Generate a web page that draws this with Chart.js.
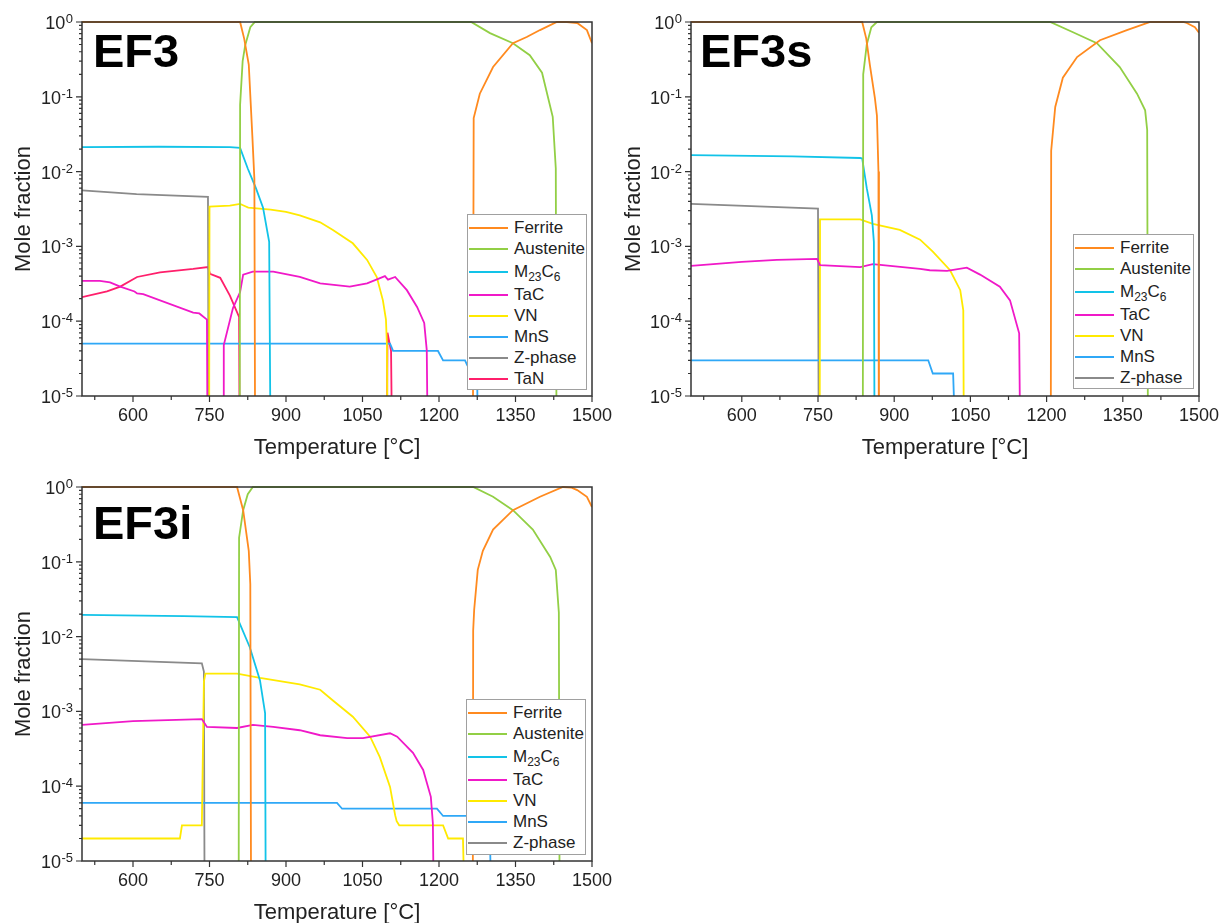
<!DOCTYPE html>
<html>
<head>
<meta charset="utf-8">
<title>Equilibrium phase fractions EF3 / EF3s / EF3i</title>
<script src="https://cdn.jsdelivr.net/npm/chart.js@4.4.0/dist/chart.umd.min.js"></script>
<style>
  html, body { margin: 0; padding: 0; background: #fff; overflow: hidden; }
  body { width: 1225px; height: 923px; position: relative; font-family: "Liberation Sans", Arial, sans-serif; }
  .panel { position: absolute; height: 465px; }
  .panel canvas { position: absolute; left: 0; top: 0; }
  .tag { position: absolute; font-weight: bold; font-size: 47px; line-height: 47px; color: #000; }
  .legend { position: absolute; background: #fff; border: 1px solid #a0a0a0; box-sizing: border-box; padding-top: 2px; }
  .legend .row { display: flex; align-items: center; height: 21px; font-size: 17px; color: #222; white-space: nowrap; }
  .legend .row.tall { height: 25px; }
  .legend .swatch { width: 39px; height: 2px; margin-left: 1px; margin-right: 6px; flex: none; }
  .legend sub { font-size: 12px; vertical-align: -4px; line-height: 0; }
</style>
</head>
<body>
<div class="panel" id="p1" style="left:0;top:0;width:625px">
  <canvas id="c1" width="625" height="465"></canvas>
  <div class="tag" style="left:93px;top:27px">EF3</div>
  <div class="legend" id="l1" style="left:467px;top:214px;width:120px;height:176px"></div>
</div>
<div class="panel" id="p3" style="left:0;top:465px;width:625px">
  <canvas id="c3" width="625" height="465"></canvas>
  <div class="tag" style="left:93px;top:34px">EF3i</div>
  <div class="legend" id="l3" style="left:466px;top:234px;width:120px;height:156px"></div>
</div>
<div class="panel" id="p2" style="left:610px;top:0;width:615px">
  <canvas id="c2" width="615" height="465"></canvas>
  <div class="tag" style="left:90px;top:27px">EF3s</div>
  <div class="legend" id="l2" style="left:463px;top:234px;width:121px;height:155px"></div>
</div>

<script>
// phases (legend order) and their colours
const phaseNames = ['Ferrite', 'Austenite', 'M23C6', 'TaC', 'VN', 'MnS', 'Z-phase', 'TaN'];
const phaseColors = ['#FF8A1F', '#92CF45', '#12C3E8', '#F019C8', '#FFEA00', '#2FA8F7', '#8A8A8A', '#FF1F6B'];

// axis ticks
const xTickValues = [600, 750, 900, 1050, 1200, 1350, 1500];
const xMinorTicks = [525, 675, 825, 975, 1125, 1275, 1425];
const yTickValues = [1e-5, 1e-4, 1e-3, 1e-2, 1e-1, 1];
const yTickExponents = ['-5', '-4', '-3', '-2', '-1', '0'];

// [temperature °C, mole fraction]; 1e-7 = phase absent (below axis)
// ---- EF3 ----
const ef3Ferrite = [[500,1],[810,1],[818,0.6],[827,0.27],[834,0.03],[838,0.008],[840,1e-7],[1266,1e-7],[1268,0.052],[1280,0.11],[1306,0.25],[1345,0.52],[1372,0.63],[1398,0.78],[1431,1],[1451,1],[1471,0.97],[1490,0.78],[1500,0.52]];
const ef3Austenite = [[500,1e-7],[809,1e-7],[810,0.078],[815,0.3],[820,0.49],[830,0.85],[839,1],[1263,1],[1300,0.71],[1345,0.52],[1378,0.36],[1402,0.21],[1423,0.054],[1429,0.011],[1431,1e-7]];
const ef3M23C6 = [[500,0.0212],[650,0.0215],[790,0.0212],[810,0.0207],[825,0.011],[841,0.006],[855,0.0033],[867,0.00115],[871,1e-7]];
const ef3TaC = [[500,3.46e-4],[535,3.46e-4],[555,3.3e-4],[575,2.9e-4],[603,2.5e-4],[608,2.35e-4],[620,2.3e-4],[718,1.3e-4],[730,1.27e-4],[745,1.05e-4],[747,1e-7],[777,1e-7],[778,4.8e-5],[796,1.5e-4],[810,2.45e-4],[816,4.2e-4],[835,4.6e-4],[875,4.6e-4],[927,3.9e-4],[967,3.2e-4],[1025,2.9e-4],[1059,3.2e-4],[1094,4.0e-4],[1100,3.6e-4],[1114,3.9e-4],[1137,2.6e-4],[1157,1.55e-4],[1171,9.5e-5],[1176,4.1e-5],[1180,1e-7]];
const ef3VN = [[749,1e-7],[750,0.0034],[790,0.0035],[810,0.0037],[818,0.0035],[826,0.0033],[870,0.0031],[900,0.0029],[927,0.0026],[967,0.0021],[992,0.00166],[1031,0.0011],[1059,0.00066],[1078,0.00039],[1090,0.00019],[1096,1.05e-4],[1098,4.6e-5],[1100,1e-7]];
const ef3MnS = [[500,5e-5],[1104,5e-5],[1110,4e-5],[1198,4e-5],[1208,3e-5],[1251,3e-5],[1255,2.6e-5],[1275,1.5e-5],[1278,1e-7]];
const ef3ZPhase = [[500,0.0056],[607,0.005],[747,0.0046],[749,1e-7]];
const ef3TaN = [[500,2.1e-4],[549,2.5e-4],[575,2.9e-4],[608,3.9e-4],[653,4.5e-4],[718,5.0e-4],[747,5.3e-4],[751,4.3e-4],[771,3.8e-4],[790,2.2e-4],[808,1.14e-4],[810,1e-7],[1097,1e-7],[1099,7e-5],[1106,4e-5],[1110,1e-7]];

// ---- EF3s ----
const ef3sFerrite = [[500,1],[837,1],[845,0.6],[852,0.27],[862,0.096],[866,0.056],[869,0.01],[870,1e-7],[1208,1e-7],[1209,0.019],[1217,0.073],[1232,0.18],[1260,0.34],[1305,0.57],[1358,0.78],[1404,1],[1469,1],[1476,0.97],[1492,0.85],[1500,0.72]];
const ef3sAustenite = [[500,1e-7],[838,1e-7],[839,0.2],[846,0.5],[855,0.85],[866,1],[1207,1],[1252,0.73],[1299,0.52],[1344,0.25],[1378,0.11],[1394,0.066],[1398,0.036],[1400,1e-7]];
const ef3sM23C6 = [[500,0.0166],[700,0.016],[833,0.0152],[837,0.015],[846,0.006],[856,0.0026],[860,0.00115],[862,1e-7]];
const ef3sTaC = [[500,5.5e-4],[600,6.2e-4],[669,6.6e-4],[748,6.8e-4],[754,5.6e-4],[833,5.3e-4],[858,5.8e-4],[951,5.0e-4],[970,4.8e-4],[1004,4.7e-4],[1043,5.2e-4],[1069,4.2e-4],[1108,2.9e-4],[1128,1.9e-4],[1146,6.9e-5],[1150,1e-7]];
const ef3sVN = [[753,1e-7],[754,0.0023],[833,0.0023],[858,0.002],[911,0.00166],[951,0.00123],[976,8.5e-4],[1010,4.8e-4],[1030,2.6e-4],[1036,1.4e-4],[1038,1e-7]];
const ef3sMnS = [[500,3e-5],[967,3e-5],[976,2e-5],[1016,2e-5],[1027,1e-7]];
const ef3sZPhase = [[500,0.0037],[750,0.0032],[752,1e-7]];

// ---- EF3i ----
const ef3iFerrite = [[500,1],[804,1],[816,0.49],[827,0.14],[830,0.05],[832,1e-7],[1266,1e-7],[1267,0.012],[1269,0.023],[1276,0.078],[1286,0.14],[1306,0.27],[1345,0.49],[1398,0.74],[1443,1],[1460,0.98],[1471,0.91],[1490,0.74],[1500,0.54]];
const ef3iAustenite = [[500,1e-7],[807,1e-7],[808,0.21],[816,0.49],[825,0.8],[835,1],[1267,1],[1306,0.74],[1345,0.49],[1384,0.27],[1418,0.116],[1429,0.078],[1435,0.021],[1437,1e-7]];
const ef3iM23C6 = [[500,0.0195],[700,0.0188],[804,0.0182],[829,0.0072],[849,0.0026],[859,9.5e-4],[861,1e-7]];
const ef3iTaC = [[500,6.6e-4],[600,7.4e-4],[735,7.9e-4],[745,6.2e-4],[804,6.0e-4],[835,6.6e-4],[875,6.2e-4],[927,5.6e-4],[967,4.8e-4],[1020,4.4e-4],[1051,4.4e-4],[1104,5.1e-4],[1118,4.6e-4],[1149,2.8e-4],[1169,1.65e-4],[1184,7.2e-5],[1188,3.2e-5],[1192,1e-7]];
const ef3iVN = [[500,2e-5],[692,2e-5],[696,3e-5],[735,3e-5],[739,0.0025],[742,0.0032],[804,0.0032],[849,0.0028],[927,0.0023],[967,0.00195],[992,0.0014],[1031,8.5e-4],[1065,4.6e-4],[1084,2.45e-4],[1104,9.8e-5],[1114,4.1e-5],[1117,3.4e-5],[1122,3e-5],[1208,3e-5],[1218,2e-5],[1247,2e-5],[1255,1e-7]];
const ef3iMnS = [[500,6e-5],[1000,6e-5],[1010,5e-5],[1196,5e-5],[1208,4e-5],[1295,4e-5],[1300,2e-5],[1306,1e-7]];
const ef3iZPhase = [[500,0.005],[735,0.0044],[739,0.0034],[741,1e-7]];

const ef3Series = [ef3Ferrite, ef3Austenite, ef3M23C6, ef3TaC, ef3VN, ef3MnS, ef3ZPhase, ef3TaN];
const ef3sSeries = [ef3sFerrite, ef3sAustenite, ef3sM23C6, ef3sTaC, ef3sVN, ef3sMnS, ef3sZPhase];
const ef3iSeries = [ef3iFerrite, ef3iAustenite, ef3iM23C6, ef3iTaC, ef3iVN, ef3iMnS, ef3iZPhase];

const FONT = '"Liberation Sans", Arial, sans-serif';
Chart.defaults.font.family = FONT;
Chart.defaults.color = '#222';

// box round the plot area, outward major/minor ticks, and 10^n labels
const frameTicks = {
  id: 'frameTicks',
  afterDatasetsDraw(chart) {
    const { ctx, chartArea: a, scales: { x, y } } = chart;
    ctx.save();
    ctx.strokeStyle = '#333';
    ctx.lineWidth = 1.5;
    ctx.strokeRect(a.left, a.top, a.right - a.left, a.bottom - a.top);
    ctx.lineWidth = 1.2;
    ctx.beginPath();
    xTickValues.forEach(v => { const px = x.getPixelForValue(v); ctx.moveTo(px, a.bottom); ctx.lineTo(px, a.bottom + 6); });
    xMinorTicks.forEach(v => { const px = x.getPixelForValue(v); ctx.moveTo(px, a.bottom); ctx.lineTo(px, a.bottom + 4); });
    yTickValues.forEach(v => { const py = y.getPixelForValue(v); ctx.moveTo(a.left, py); ctx.lineTo(a.left - 6, py); });
    yTickValues.slice(0, -1).forEach(d => {
      for (let m = 2; m <= 9; m++) {
        const py = y.getPixelForValue(d * m);
        ctx.moveTo(a.left, py); ctx.lineTo(a.left - 3, py);
      }
    });
    ctx.stroke();

    ctx.fillStyle = '#222';
    ctx.textAlign = 'right';
    ctx.textBaseline = 'alphabetic';
    yTickValues.forEach((v, i) => {
      const py = y.getPixelForValue(v);
      const exp = yTickExponents[i];
      ctx.font = '13px ' + FONT;
      const ew = ctx.measureText(exp).width;
      const right = a.left - 9;
      ctx.fillText(exp, right, py + 1);
      ctx.font = '18px ' + FONT;
      ctx.fillText('10', right - ew - 0.5, py + 7);
    });
    ctx.restore();
  }
};

function buildPanel(canvasId, legendId, series, axisWidth, padRight) {
  const datasets = series.map((pts, i) => ({
    label: phaseNames[i],
    data: pts.map(([t, f]) => ({ x: t, y: f })),
    borderColor: phaseColors[i],
    borderWidth: 1.8,
    pointRadius: 0,
    tension: 0,
    fill: false,
    clip: { left: 0, top: 2, right: 0, bottom: 0 }
  }));

  const chart = new Chart(document.getElementById(canvasId), {
    type: 'line',
    data: { datasets },
    options: {
      responsive: false,
      animation: false,
      devicePixelRatio: 1,
      layout: { padding: { top: 22, right: padRight, left: 0, bottom: 0 } },
      plugins: { legend: { display: false }, tooltip: { enabled: false } },
      scales: {
        x: {
          type: 'linear',
          min: 500,
          max: 1500,
          afterBuildTicks: s => { s.ticks = xTickValues.map(v => ({ value: v })); },
          afterFit: s => { s.height = 69; s.paddingLeft = 0; s.paddingRight = 0; },
          border: { display: false },
          grid: { display: false, drawTicks: true, tickLength: 6 },
          ticks: { font: { size: 18 }, padding: 3, maxRotation: 0, autoSkip: false, color: '#222', callback: v => String(v) },
          title: { display: true, text: 'Temperature [°C]', font: { size: 22 }, color: '#222', padding: { top: 0, bottom: 4 } }
        },
        y: {
          type: 'logarithmic',
          min: 1e-5,
          max: 1,
          afterBuildTicks: s => { s.ticks = yTickValues.map(v => ({ value: v })); },
          afterFit: s => { s.width = axisWidth; s.paddingTop = 0; s.paddingBottom = 0; },
          border: { display: false },
          grid: { display: false, drawTicks: true, tickLength: 6 },
          ticks: { display: false },
          title: { display: true, text: 'Mole fraction', font: { size: 22 }, color: '#222', padding: { top: 11, bottom: 0 } }
        }
      }
    },
    plugins: [frameTicks]
  });

  // in-plot legend with subscripts for M23C6
  const box = document.getElementById(legendId);
  chart.data.datasets.forEach(ds => {
    const row = document.createElement('div');
    row.className = /\d/.test(ds.label) ? 'row tall' : 'row';
    const sw = document.createElement('span');
    sw.className = 'swatch';
    sw.style.background = ds.borderColor;
    const txt = document.createElement('span');
    txt.innerHTML = ds.label.replace(/(\d+)/g, '<sub>$1</sub>');
    row.appendChild(sw);
    row.appendChild(txt);
    box.appendChild(row);
  });
  return chart;
}

buildPanel('c1', 'l1', ef3Series, 82, 33);
buildPanel('c3', 'l3', ef3iSeries, 82, 33);
buildPanel('c2', 'l2', ef3sSeries, 81, 26);
</script>
</body>
</html>
